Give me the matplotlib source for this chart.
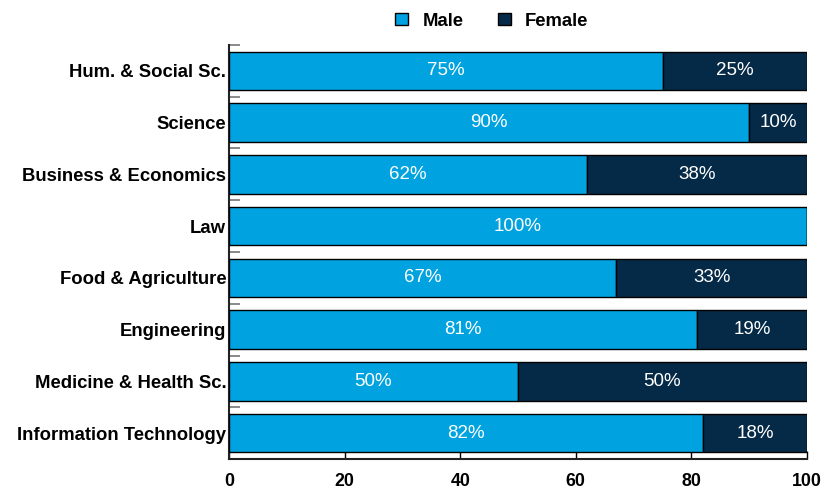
import matplotlib
matplotlib.use("Agg")
import matplotlib.pyplot as plt
import numpy as np

categories = [
    "Hum. & Social Sc.",
    "Science",
    "Business & Economics",
    "Law",
    "Food & Agriculture",
    "Engineering",
    "Medicine & Health Sc.",
    "Information Technology",
]
male = [75, 90, 62, 100, 67, 81, 50, 82]
female = [25, 10, 38, 0, 33, 19, 50, 18]
x_ticks = [0, 20, 40, 60, 80, 100]

MALE_COLOR = "#00A3E0"
FEMALE_COLOR = "#052A47"

plt.rcParams["font.family"] = ["Liberation Sans", "DejaVu Sans"]

fig = plt.figure(figsize=(8.23, 4.90), dpi=100)
ax = fig.add_axes([229 / 823, 1 - 459 / 490, 578 / 823, 414 / 490])

y = np.arange(len(categories))
ax.barh(y, male, height=0.74, color=MALE_COLOR, edgecolor="black", linewidth=1.0, label="Male", zorder=3)
ax.barh(y, female, left=male, height=0.74, color=FEMALE_COLOR, edgecolor="black", linewidth=1.0,
        label="Female", zorder=3)

for i, (m, f) in enumerate(zip(male, female)):
    if m > 0:
        ax.text(m / 2, i, f"{m}%", ha="center", va="center", color="white", fontsize=13.5, zorder=4)
    if f > 0:
        ax.text(m + f / 2, i, f"{f}%", ha="center", va="center", color="white", fontsize=13.5, zorder=4)

ax.set_xlim(0, 100)
ax.set_ylim(len(categories) - 0.5, -0.5)

ax.set_yticks(y)
ax.set_yticklabels(categories, fontsize=13.3, fontweight="bold")
ax.tick_params(axis="y", which="major", length=0, pad=2)
ax.set_yticks(y - 0.5, minor=True)
ax.tick_params(axis="y", which="minor", direction="in", length=8, width=1.2, color="#777777")

ax.set_xticks(x_ticks)
ax.set_xticklabels([str(t) for t in x_ticks], fontsize=12.8, fontweight="bold")
ax.tick_params(axis="x", direction="in", length=6, width=1, pad=10)

for side in ["top", "right"]:
    ax.spines[side].set_visible(False)
for side in ["left", "bottom"]:
    ax.spines[side].set_linewidth(1.5)
    ax.spines[side].set_color("#222222")

fig.legend(
    loc="center",
    bbox_to_anchor=(492 / 823, 1 - 21 / 490),
    ncol=2,
    frameon=False,
    prop={"weight": "bold", "size": 13.3},
    handlelength=0.7,
    handleheight=0.7,
    columnspacing=1.9,
    handletextpad=0.75,
)

fig.savefig("out.png", dpi=100)
